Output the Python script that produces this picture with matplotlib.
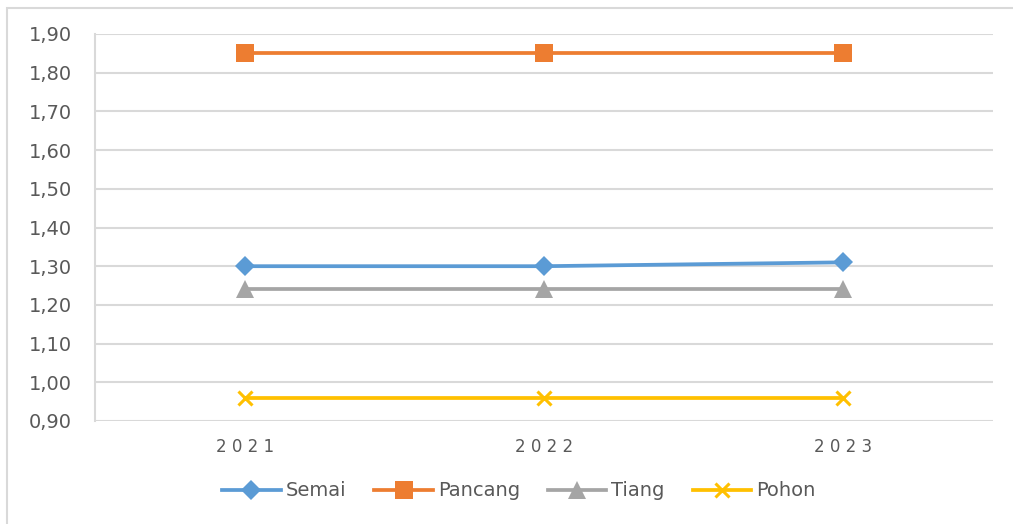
import matplotlib
matplotlib.use("Agg")
import matplotlib.pyplot as plt
from matplotlib.patches import Rectangle

years = ["2021", "2022", "2023"]
semai = [1.30, 1.30, 1.31]
pancang = [1.85, 1.85, 1.85]
tiang = [1.24, 1.24, 1.24]
pohon = [0.96, 0.96, 0.96]
yticks = [0.90, 1.00, 1.10, 1.20, 1.30, 1.40, 1.50, 1.60, 1.70, 1.80, 1.90]

plt.rcParams['font.family'] = ['DejaVu Sans']

fig = plt.figure(figsize=(10.13, 5.24), dpi=100)
fig.patches.append(Rectangle((7/1013, -0.1), 1.2, (524-8)/524 + 0.1, transform=fig.transFigure,
                             fill=False, edgecolor='#D9D9D9', linewidth=1.5))
ax = fig.add_axes([95/1013, 103/524, 898/1013, 387/524])

x = list(range(len(years)))
series = [
    ("Semai", semai, '#5B9BD5', 'D', 10.5),
    ("Pancang", pancang, '#ED7D31', 's', 13),
    ("Tiang", tiang, '#A5A5A5', '^', 12.5),
    ("Pohon", pohon, '#FFC000', 'x', 10),
]
for name, vals, col, mk, ms in series:
    kw = dict(markeredgewidth=2.2) if mk == 'x' else dict(markeredgewidth=0)
    ax.plot(x, vals, color=col, linewidth=2.7, marker=mk, markersize=ms,
            markerfacecolor=col, markeredgecolor=col, label=name, zorder=3, **kw)

ax.set_xlim(-0.5, 2.5)
ax.set_ylim(0.90, 1.90)
ax.set_yticks(yticks)
ax.set_yticklabels([f"{v:.2f}".replace('.', ',') for v in yticks])
ax.set_xticks(x)
ax.set_xticklabels([' '.join(y) for y in years])
ax.grid(axis='y', color='#D9D9D9', linewidth=1.5)
ax.set_axisbelow(True)
for s in ['top', 'right', 'bottom']:
    ax.spines[s].set_visible(False)
ax.spines['left'].set_color('#D9D9D9')
ax.spines['left'].set_linewidth(1.5)
ax.tick_params(axis='both', length=0, colors='#595959')
ax.tick_params(axis='y', pad=16.5, labelsize=14)
ax.tick_params(axis='x', pad=12, labelsize=12)

leg = fig.legend(loc='center', bbox_to_anchor=(519/1013, 1 - 491/524), ncol=4, frameon=False,
                 fontsize=14, handlelength=3.0, columnspacing=1.45, handletextpad=0.26)
for t in leg.get_texts():
    t.set_color('#595959')

fig.savefig('out.png', dpi=100)
